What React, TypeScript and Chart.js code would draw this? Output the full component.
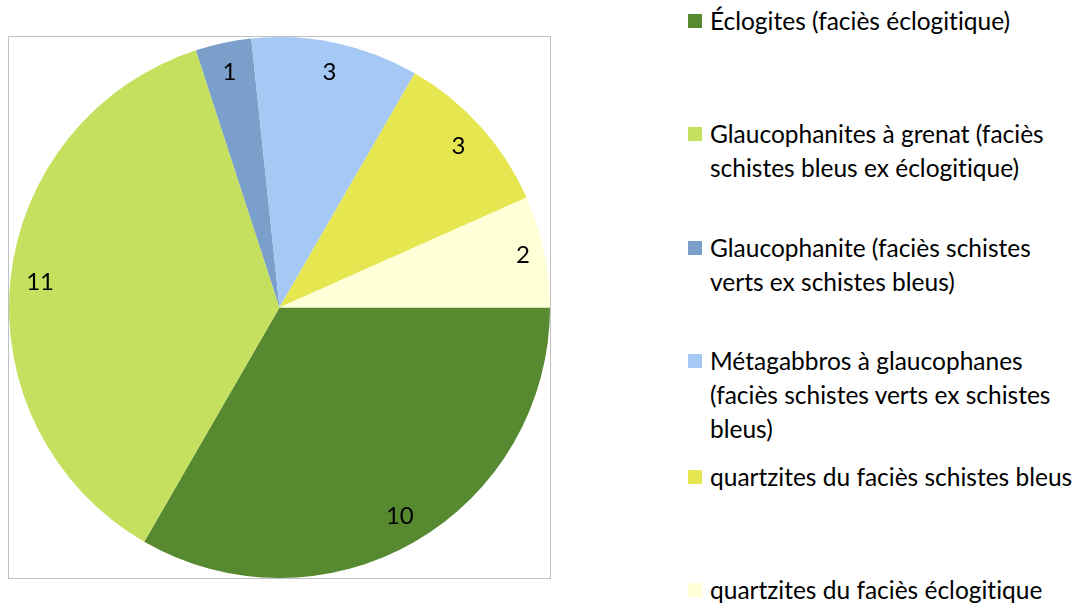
import React, { useEffect, useRef } from "react";
import { Chart, registerables } from "chart.js";

Chart.register(...registerables);

const categoryLines: string[][] = [
  ["Éclogites (faciès éclogitique)"],
  ["Glaucophanites à grenat (faciès", "schistes bleus ex éclogitique)"],
  ["Glaucophanite (faciès schistes", "verts ex schistes bleus)"],
  ["Métagabbros à glaucophanes", "(faciès schistes verts ex schistes", "bleus)"],
  ["quartzites du faciès schistes bleus"],
  ["quartzites du faciès éclogitique"],
];
const categories: string[] = categoryLines.map((l) => l.join(" "));
const values: number[] = [10, 11, 1, 3, 3, 2];
const colors: string[] = ["#578A30", "#C5E05E", "#7A9FCB", "#A5C8F5", "#E6E651", "#FFFFD8"];

const FONT = "Lato, 'Open Sans', sans-serif";

const labelPlugin = {
  id: "sliceLabels",
  afterDatasetsDraw(chart: any) {
    const ctx = chart.ctx;
    const meta = chart.getDatasetMeta(0);
    ctx.save();
    ctx.fillStyle = "#000";
    ctx.font = `24px ${FONT}`;
    ctx.textAlign = "center";
    ctx.textBaseline = "middle";
    meta.data.forEach((arc: any, i: number) => {
      const p = arc.getProps(["x", "y", "startAngle", "endAngle", "outerRadius"], true);
      const mid = (p.startAngle + p.endAngle) / 2;
      const r = p.outerRadius * (i === 5 ? 0.92 : 0.89);
      ctx.fillText(String(values[i]), p.x + Math.cos(mid) * r, p.y + Math.sin(mid) * r);
    });
    ctx.restore();
  },
};

export default function App() {
  const ref = useRef<HTMLCanvasElement>(null);
  useEffect(() => {
    document.body.style.margin = "0";
    const chart = new Chart(ref.current!, {
      type: "pie",
      data: {
        labels: categories,
        datasets: [{ data: values, backgroundColor: colors, borderWidth: 0 }],
      },
      options: {
        animation: false,
        responsive: false,
        rotation: 90,
        layout: { padding: 1 },
        plugins: { legend: { display: false }, tooltip: { enabled: false } },
      },
      plugins: [labelPlugin],
    });
    return () => chart.destroy();
  }, []);

  const itemTops = [4, 117, 231, 344, 460, 573];
  return (
    <div style={{ position: "relative", width: 1089, height: 608, background: "#fff", overflow: "hidden", fontFamily: FONT, fontVariantLigatures: "none" }}>
      <div style={{ position: "absolute", left: 8, top: 36, width: 543, height: 543, border: "1.5px solid #C0C0C0", boxSizing: "border-box" }} />
      <canvas ref={ref} width={543} height={543} style={{ position: "absolute", left: 8, top: 36 }} />
      {categoryLines.map((lines, i) => (
        <div key={i} style={{ position: "absolute", left: 688, top: itemTops[i] }}>
          <div style={{ position: "absolute", left: 0, top: 10, width: 14, height: 14, background: colors[i] }} />
          <div style={{ position: "absolute", left: 22, top: 0, fontSize: 24.5, lineHeight: "34px", whiteSpace: "nowrap", color: "#000" }}>
            {lines.map((t, j) => (
              <div key={j}>{t}</div>
            ))}
          </div>
        </div>
      ))}
    </div>
  );
}
